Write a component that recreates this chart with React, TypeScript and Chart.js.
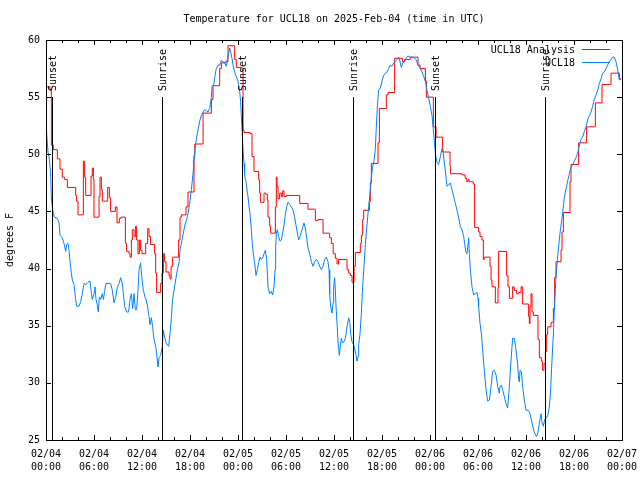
import React, { useEffect, useRef } from 'react';
import { Chart, registerables } from 'chart.js';

Chart.register(...registerables);

const FONT = "'DejaVu Sans Mono', 'Liberation Mono', monospace";
const titleText = 'Temperature for UCL18 on 2025-Feb-04 (time in UTC)';
const yAxisLabel = 'degrees F';

// x axis: hours since 2025-02-04 00:00 UTC
const dateLabels = ['02/04', '02/04', '02/04', '02/04', '02/05', '02/05', '02/05', '02/05', '02/06', '02/06', '02/06', '02/06', '02/07'];
const timeLabels = ['00:00', '06:00', '12:00', '18:00', '00:00', '06:00', '12:00', '18:00', '00:00', '06:00', '12:00', '18:00', '00:00'];

const sunHours = [0.7, 14.53, 24.52, 38.42, 48.66, 62.42];
const sunLabels = ['Sunset', 'Sunrise', 'Sunset', 'Sunrise', 'Sunset', 'Sunrise'];

// UCL18 Analysis (stepped)
const redHours = [
  0, 0.5, 0.67, 0.92, 1.42, 1.75, 2.04, 2.33, 2.67, 3.71, 3.83, 4.0, 4.67, 4.83, 4.96, 5.63, 5.79, 5.92, 6.0, 6.63,
  6.75, 6.92, 7.04, 7.71, 7.92, 8.08, 8.67, 8.88, 9.17, 9.38, 9.92, 10.08, 10.38, 10.5, 10.67, 10.79, 11.0, 11.2, 11.33, 11.5,
  11.67, 11.83, 12.0, 12.46, 12.71, 12.88, 13.08, 13.58, 13.71, 13.83, 14.33, 14.5, 14.67, 14.83, 15.0, 15.38, 15.5, 15.63, 15.83, 16.58,
  16.75, 16.92, 17.5, 17.75, 18.5, 18.6, 19.63, 20.67, 20.88, 21.71, 21.92, 22.42, 22.75, 23.58, 23.79, 24.5, 24.63, 24.75, 25.5, 25.75,
  26.0, 26.58, 26.71, 26.83, 27.25, 27.5, 27.67, 27.75, 27.96, 28.08, 28.67, 28.79, 28.88, 29.0, 29.21, 29.42, 29.58, 29.75, 30.04, 31.71,
  32.75, 33.67, 34.0, 34.63, 35.46, 35.67, 35.9, 36.17, 36.38, 36.58, 37.63, 37.83, 38.04, 38.25, 38.5, 38.67, 39.29, 39.42, 39.58, 39.71,
  40.42, 40.54, 40.67, 41.5, 41.67, 42.54, 42.75, 43.58, 44.58, 44.83, 45.54, 46.5, 46.75, 47.42, 47.54, 48.42, 48.75, 49.58, 50.5, 50.58,
  52.0, 52.4, 52.6, 52.75, 52.9, 53.4, 53.58, 54.08, 54.25, 54.5, 54.67, 54.79, 55.5, 55.63, 55.75, 56.17, 56.5, 56.58, 57.58, 57.75,
  57.92, 58.33, 58.54, 58.83, 59.08, 59.38, 59.58, 60.33, 60.42, 60.5, 60.63, 60.75, 60.92, 61.5, 61.67, 61.92, 62.08, 62.25, 62.42, 62.54,
  62.71, 63.13, 63.42, 63.58, 63.75, 64.38, 64.5, 64.67, 65.5, 65.63, 66.58, 67.58, 68.67, 69.5, 70.63, 71.67, 71.9,
];
const redTemps = [
  55.9, 55.6, 50.8, 50.4, 49.6, 48.7, 48.0, 47.8, 47.1, 46.4, 45.9, 44.7, 49.4, 48.0, 46.4, 48.1, 48.8, 47.8, 44.5, 46.3,
  48.0, 46.9, 45.9, 47.1, 46.2, 45.0, 45.4, 44.0, 44.4, 44.5, 42.2, 41.5, 41.3, 41.0, 42.5, 43.4, 42.8, 43.7, 42.5, 41.3,
  42.5, 41.6, 41.3, 42.2, 43.5, 42.8, 42.1, 41.3, 39.6, 37.9, 38.7, 39.6, 41.3, 40.6, 39.7, 39.4, 39.1, 40.2, 41.0, 42.5,
  44.5, 44.7, 45.4, 46.7, 49.9, 50.9, 53.6, 54.8, 56.0, 57.5, 58.0, 58.1, 59.5, 58.3, 57.6, 57.4, 52.1, 51.9, 51.8, 49.8,
  48.5, 47.8, 46.6, 45.8, 46.6, 46.5, 46.0, 44.5, 43.7, 43.1, 45.4, 48.0, 47.2, 46.1, 46.6, 46.3, 46.8, 46.3, 46.4, 45.7,
  45.2, 44.2, 44.3, 43.1, 42.7, 42.2, 41.3, 40.9, 40.4, 40.8, 39.9, 39.6, 39.4, 38.8, 40.2, 41.4, 42.2, 42.9, 44.3, 45.1,
  45.9, 47.5, 49.2, 51.0, 54.0, 55.2, 55.4, 58.4, 58.1, 58.3, 58.5, 57.8, 57.5, 56.4, 55.0, 52.4, 51.5, 50.2, 48.9, 48.3,
  48.2, 47.9, 47.6, 47.8, 47.6, 47.4, 43.6, 43.2, 42.8, 42.5, 40.8, 41.0, 40.2, 39.0, 38.4, 37.0, 38.3, 41.5, 39.4, 38.4,
  37.4, 38.4, 38.1, 37.8, 37.9, 38.4, 36.9, 35.8, 35.2, 36.7, 37.8, 36.2, 35.9, 33.8, 32.2, 31.9, 31.1, 31.7, 32.7, 34.2,
  34.9, 35.3, 36.5, 39.2, 40.6, 41.6, 43.2, 44.9, 47.6, 49.1, 51.0, 52.4, 54.5, 56.1, 57.1, 56.6, 56.6,
];

// UCL18 observations
const blueHours = [
  0, 0.08, 0.25, 0.38, 0.58, 0.67, 0.92, 1.08, 1.42, 1.63, 1.75, 2.04, 2.25, 2.46, 2.58, 2.75, 2.88, 3.0, 3.17, 3.29,
  3.5, 3.71, 3.83, 4.13, 4.33, 4.54, 4.75, 4.96, 5.17, 5.38, 5.5, 5.67, 5.79, 6.0, 6.13, 6.25, 6.42, 6.54, 6.67, 6.83,
  7.04, 7.17, 7.33, 7.5, 7.75, 8.08, 8.29, 8.5, 8.71, 8.92, 9.13, 9.33, 9.54, 9.67, 9.83, 10.08, 10.33, 10.5, 10.67, 10.83,
  11.0, 11.17, 11.33, 11.5, 11.63, 11.83, 11.96, 12.17, 12.38, 12.5, 12.67, 12.88, 13.0, 13.17, 13.33, 13.5, 13.71, 13.83, 14.0, 14.13,
  14.33, 14.54, 14.67, 14.83, 15.0, 15.17, 15.33, 15.5, 15.67, 15.83, 16.0, 16.21, 16.42, 16.63, 16.75, 16.92, 17.17, 17.33, 17.58, 17.75,
  17.96, 18.17, 18.38, 18.5, 18.67, 18.79, 18.92, 19.08, 19.21, 19.42, 19.63, 19.83, 20.04, 20.25, 20.46, 20.67, 20.75, 21.0, 21.17, 21.29,
  21.5, 21.71, 21.92, 22.13, 22.33, 22.54, 22.67, 22.83, 22.96, 23.08, 23.25, 23.38, 23.58, 23.79, 24.0, 24.21, 24.33, 24.42, 24.54, 24.63,
  24.75, 24.83, 24.92, 25.04, 25.17, 25.25, 25.38, 25.5, 25.67, 25.79, 25.92, 26.08, 26.25, 26.42, 26.58, 26.75, 26.92, 27.13, 27.25, 27.42,
  27.58, 27.67, 27.75, 27.96, 28.17, 28.33, 28.5, 28.63, 28.71, 28.79, 28.92, 29.08, 29.25, 29.42, 29.58, 29.75, 29.92, 30.08, 30.25, 30.46,
  30.67, 30.88, 31.08, 31.25, 31.42, 31.58, 31.75, 31.92, 32.13, 32.25, 32.42, 32.58, 32.75, 32.96, 33.17, 33.38, 33.58, 33.79, 34.0, 34.21,
  34.42, 34.63, 34.83, 35.04, 35.25, 35.38, 35.46, 35.58, 35.75, 35.88, 35.96, 36.08, 36.17, 36.25, 36.38, 36.5, 36.67, 36.79, 36.92, 37.08,
  37.25, 37.42, 37.63, 37.83, 37.96, 38.08, 38.25, 38.42, 38.58, 38.75, 38.88, 39.0, 39.08, 39.25, 39.42, 39.58, 39.75, 39.92, 40.08, 40.25,
  40.42, 40.54, 40.67, 40.83, 41.0, 41.17, 41.29, 41.42, 41.58, 41.79, 42.0, 42.21, 42.42, 42.63, 42.83, 43.04, 43.25, 43.46, 43.67, 43.88,
  44.08, 44.29, 44.42, 44.58, 44.83, 45.0, 45.25, 45.54, 45.83, 46.08, 46.25, 46.5, 46.79, 47.0, 47.21, 47.42, 47.63, 47.83, 48.04, 48.25,
  48.38, 48.5, 48.63, 48.75, 48.92, 49.08, 49.29, 49.5, 49.63, 49.75, 49.92, 50.13, 50.33, 50.54, 50.75, 50.96, 51.17, 51.38, 51.58, 51.79,
  52.0, 52.21, 52.33, 52.46, 52.63, 52.75, 52.83, 52.92, 53.04, 53.25, 53.46, 53.67, 53.88, 54.0, 54.08, 54.25, 54.42, 54.58, 54.79, 55.0,
  55.21, 55.42, 55.63, 55.83, 56.04, 56.25, 56.46, 56.67, 56.75, 56.92, 57.08, 57.29, 57.5, 57.71, 57.92, 58.13, 58.33, 58.54, 58.75, 58.96,
  59.08, 59.17, 59.25, 59.42, 59.58, 59.79, 60.0, 60.33, 60.5, 60.75, 60.92, 61.08, 61.33, 61.5, 61.67, 61.88, 62.0, 62.17, 62.33, 62.5,
  62.71, 62.92, 63.08, 63.25, 63.42, 63.58, 63.75, 63.92, 64.08, 64.25, 64.42, 64.58, 64.75, 64.92, 65.08, 65.25, 65.42, 65.58, 65.83, 66.04,
  66.25, 66.46, 66.67, 66.88, 67.08, 67.29, 67.5, 67.71, 67.92, 68.13, 68.33, 68.54, 68.75, 68.96, 69.17, 69.38, 69.58, 69.79, 70.0, 70.21,
  70.42, 70.63, 70.83, 71.04, 71.25, 71.46, 71.67, 71.9,
];
const blueTemps = [
  52.0, 51.8, 50.2, 49.8, 48.3, 46.0, 44.8, 44.5, 44.4, 44.0, 42.9, 42.7, 42.2, 41.5, 42.1, 42.2, 41.6, 40.6, 39.6, 39.0,
  38.6, 37.3, 36.7, 36.7, 37.1, 37.8, 38.7, 38.6, 38.7, 38.9, 38.9, 37.8, 37.3, 37.8, 38.4, 37.3, 36.8, 36.2, 37.5, 37.3,
  37.8, 37.3, 38.0, 38.7, 38.7, 38.7, 38.1, 37.0, 37.5, 38.4, 38.7, 39.2, 38.7, 37.8, 36.7, 36.2, 36.2, 37.3, 37.8, 36.5,
  37.8, 36.4, 36.4, 38.1, 39.9, 40.5, 39.3, 38.1, 37.5, 37.3, 36.8, 35.8, 35.1, 35.7, 34.9, 33.8, 33.2, 32.6, 31.4, 32.2,
  32.4, 33.2, 34.6, 34.0, 33.5, 33.3, 33.2, 34.3, 35.7, 37.3, 38.1, 39.0, 39.9, 40.5, 41.6, 42.2, 43.1, 43.7, 44.3, 44.8,
  45.7, 46.9, 48.3, 49.5, 50.7, 51.3, 51.8, 52.4, 52.9, 53.4, 53.7, 53.9, 53.8, 53.7, 54.0, 55.0, 55.9, 56.2, 57.1, 57.5,
  57.8, 57.8, 58.2, 58.1, 58.0, 57.7, 58.3, 58.8, 59.3, 59.0, 58.4, 57.8, 57.2, 56.8, 56.4, 55.5, 54.6, 53.3, 51.8, 50.4,
  49.2, 48.3, 47.8, 47.5, 46.6, 46.3, 45.4, 44.8, 43.4, 42.2, 41.3, 40.5, 39.4, 39.9, 40.5, 41.0, 40.8, 41.0, 41.3, 41.6,
  40.8, 39.6, 38.4, 37.8, 38.0, 37.7, 38.4, 39.9, 41.9, 43.1, 43.4, 42.8, 42.4, 42.5, 43.1, 43.8, 44.7, 45.4, 45.8, 45.6,
  45.4, 45.1, 44.5, 43.8, 43.1, 42.5, 42.8, 43.2, 43.7, 44.0, 43.5, 42.7, 41.8, 41.3, 40.6, 40.2, 40.6, 40.8, 40.6, 40.2,
  39.9, 40.2, 40.8, 41.0, 40.6, 39.9, 37.8, 36.7, 36.1, 37.0, 38.4, 39.2, 38.1, 36.7, 35.2, 33.6, 32.4, 33.2, 33.9, 33.5,
  33.6, 33.9, 34.9, 35.7, 35.4, 34.3, 33.6, 33.4, 33.0, 32.4, 31.9, 32.3, 33.3, 34.3, 36.1, 38.4, 40.2, 42.1, 43.5, 44.8,
  46.0, 46.9, 48.0, 48.9, 49.4, 50.5, 52.4, 54.2, 55.6, 55.8, 56.4, 56.9, 57.1, 57.2, 57.5, 57.8, 57.7, 58.0, 58.1, 58.3,
  58.5, 58.0, 57.6, 58.0, 58.1, 58.4, 58.6, 58.5, 58.5, 58.4, 58.3, 57.8, 57.5, 57.2, 56.8, 56.4, 55.6, 54.9, 54.2, 53.4,
  52.4, 51.5, 50.4, 49.7, 49.2, 49.1, 49.8, 50.5, 50.4, 49.5, 48.5, 47.2, 47.3, 47.5, 46.9, 46.3, 45.7, 45.1, 44.5, 43.7,
  43.4, 42.8, 42.2, 41.5, 41.3, 42.2, 42.7, 41.3, 39.9, 38.4, 37.7, 37.8, 37.9, 37.4, 36.7, 35.2, 34.3, 32.9, 31.1, 29.4,
  28.4, 28.5, 29.7, 31.0, 31.1, 30.7, 29.7, 29.1, 29.7, 29.8, 29.4, 28.8, 28.2, 27.8, 29.7, 32.0, 33.9, 33.9, 32.9, 31.6,
  30.3, 30.1, 31.1, 31.0, 29.7, 28.5, 27.6, 27.6, 27.3, 26.5, 26.0, 25.6, 25.3, 25.7, 26.5, 27.3, 26.5, 26.2, 26.8, 26.9,
  27.1, 27.9, 29.4, 32.0, 34.3, 37.0, 39.3, 40.8, 41.9, 43.1, 44.0, 44.8, 46.0, 46.7, 47.2, 47.8, 48.3, 48.8, 49.1, 49.4,
  49.7, 50.1, 50.8, 51.3, 51.5, 52.0, 52.4, 53.0, 53.4, 53.7, 54.2, 54.8, 55.2, 55.6, 56.2, 56.6, 57.1, 57.2, 57.5, 57.8,
  58.1, 58.3, 58.5, 58.5, 58.1, 57.4, 56.5, 56.6,
];

const yMin = 25;
const yMax = 60;
const yStep = 5;
const xMin = 0;
const xMax = 72;
const xStep = 6;
const xMinorPerMajor = 3;
const sunLineTopValue = 55;

const RED = '#ff0000';
const BLUE = '#0080ff';

const framePlugin = {
  id: 'gnuplotFrame',
  afterDatasetsDraw(chart: any) {
    const { ctx, chartArea, scales } = chart;
    const { left, right, top, bottom } = chartArea;
    const xs = scales.x;
    const ys = scales.y;
    ctx.save();
    ctx.strokeStyle = '#000';
    ctx.fillStyle = '#000';
    ctx.lineWidth = 1;
    ctx.font = `10px ${FONT}`;

    // sunrise / sunset lines
    const lineTop = Math.round(ys.getPixelForValue(sunLineTopValue));
    sunHours.forEach((h, i) => {
      const px = Math.round(xs.getPixelForValue(h)) + 0.5;
      ctx.beginPath();
      ctx.moveTo(px, lineTop);
      ctx.lineTo(px, bottom);
      ctx.stroke();
      ctx.save();
      ctx.translate(px + 1, lineTop - 6);
      ctx.rotate(-Math.PI / 2);
      ctx.textAlign = 'left';
      ctx.textBaseline = 'middle';
      ctx.fillText(sunLabels[i], 0, 0);
      ctx.restore();
    });

    // x ticks (major + minor), bottom and mirrored top
    const minorStep = xStep / xMinorPerMajor;
    for (let k = 0; k <= (xMax - xMin) / minorStep; k++) {
      const v = xMin + k * minorStep;
      const px = Math.round(xs.getPixelForValue(v)) + 0.5;
      const len = k % xMinorPerMajor === 0 ? 5 : 3;
      ctx.beginPath();
      ctx.moveTo(px, bottom);
      ctx.lineTo(px, bottom - len);
      ctx.moveTo(px, top);
      ctx.lineTo(px, top + len);
      ctx.stroke();
    }
    // y ticks, left and mirrored right
    for (let v = yMin; v <= yMax; v += yStep) {
      const py = Math.round(ys.getPixelForValue(v)) + 0.5;
      ctx.beginPath();
      ctx.moveTo(left, py);
      ctx.lineTo(left + 5, py);
      ctx.moveTo(right, py);
      ctx.lineTo(right - 5, py);
      ctx.stroke();
    }
    // border
    ctx.strokeRect(Math.round(left) + 0.5, Math.round(top) + 0.5, Math.round(right - left), Math.round(bottom - top));

    // legend
    const datasets = chart.data.datasets;
    datasets.forEach((ds: any, i: number) => {
      const ly = top + 10 + i * 13;
      ctx.fillStyle = '#000';
      ctx.textAlign = 'right';
      ctx.textBaseline = 'middle';
      ctx.fillText(ds.label, right - 47, ly);
      ctx.strokeStyle = ds.borderColor;
      ctx.beginPath();
      ctx.moveTo(right - 40, Math.round(ly) - 0.5);
      ctx.lineTo(right - 12, Math.round(ly) - 0.5);
      ctx.stroke();
    });

    // title
    ctx.fillStyle = '#000';
    ctx.textAlign = 'center';
    ctx.textBaseline = 'middle';
    ctx.fillText(titleText, (left + right) / 2, 19);

    // y axis label
    ctx.save();
    ctx.translate(10, (top + bottom) / 2);
    ctx.rotate(-Math.PI / 2);
    ctx.textAlign = 'center';
    ctx.textBaseline = 'middle';
    ctx.fillText(yAxisLabel, 0, 0);
    ctx.restore();

    ctx.restore();
  },
};

export default function App() {
  const ref = useRef<HTMLCanvasElement>(null);

  useEffect(() => {
    const redData = redHours.map((h, i) => ({ x: h, y: redTemps[i] }));
    const blueData = blueHours.map((h, i) => ({ x: h, y: blueTemps[i] }));
    const chart = new Chart(ref.current as HTMLCanvasElement, {
      type: 'line',
      data: {
        datasets: [
          {
            label: 'UCL18 Analysis',
            data: redData,
            borderColor: RED,
            backgroundColor: RED,
            borderWidth: 1,
            pointRadius: 0,
            stepped: true,
            fill: false,
            order: 1,
          },
          {
            label: 'UCL18',
            data: blueData,
            borderColor: BLUE,
            backgroundColor: BLUE,
            borderWidth: 1,
            pointRadius: 0,
            tension: 0,
            fill: false,
            order: 0,
          },
        ],
      },
      options: {
        animation: false,
        responsive: false,
        devicePixelRatio: 1,
        layout: { padding: { left: 0, top: 40, right: 18, bottom: 0 } },
        plugins: {
          legend: { display: false },
          title: { display: false },
          tooltip: { enabled: false },
        },
        scales: {
          x: {
            type: 'linear',
            min: xMin,
            max: xMax,
            grid: { display: false, drawTicks: false },
            border: { display: false },
            afterFit: (s: any) => {
              s.height = 40;
              s.paddingLeft = 0;
              s.paddingRight = 0;
            },
            ticks: {
              stepSize: xStep,
              autoSkip: false,
              maxRotation: 0,
              padding: 8,
              color: '#000',
              font: { family: FONT, size: 10, lineHeight: 1.3 },
              callback: (_v: any, i: number) => [dateLabels[i], timeLabels[i]],
            },
          },
          y: {
            type: 'linear',
            min: yMin,
            max: yMax,
            grid: { display: false, drawTicks: false },
            border: { display: false },
            afterFit: (s: any) => {
              s.width = 46;
              s.paddingTop = 0;
              s.paddingBottom = 0;
            },
            ticks: {
              stepSize: yStep,
              padding: 6,
              color: '#000',
              font: { family: FONT, size: 10 },
            },
          },
        },
      },
      plugins: [framePlugin],
    });
    return () => chart.destroy();
  }, []);

  return (
    <div style={{ position: 'fixed', left: 0, top: 0, width: 640, height: 480, background: '#fff' }}>
      <canvas ref={ref} width={640} height={480} style={{ display: 'block' }} />
    </div>
  );
}
